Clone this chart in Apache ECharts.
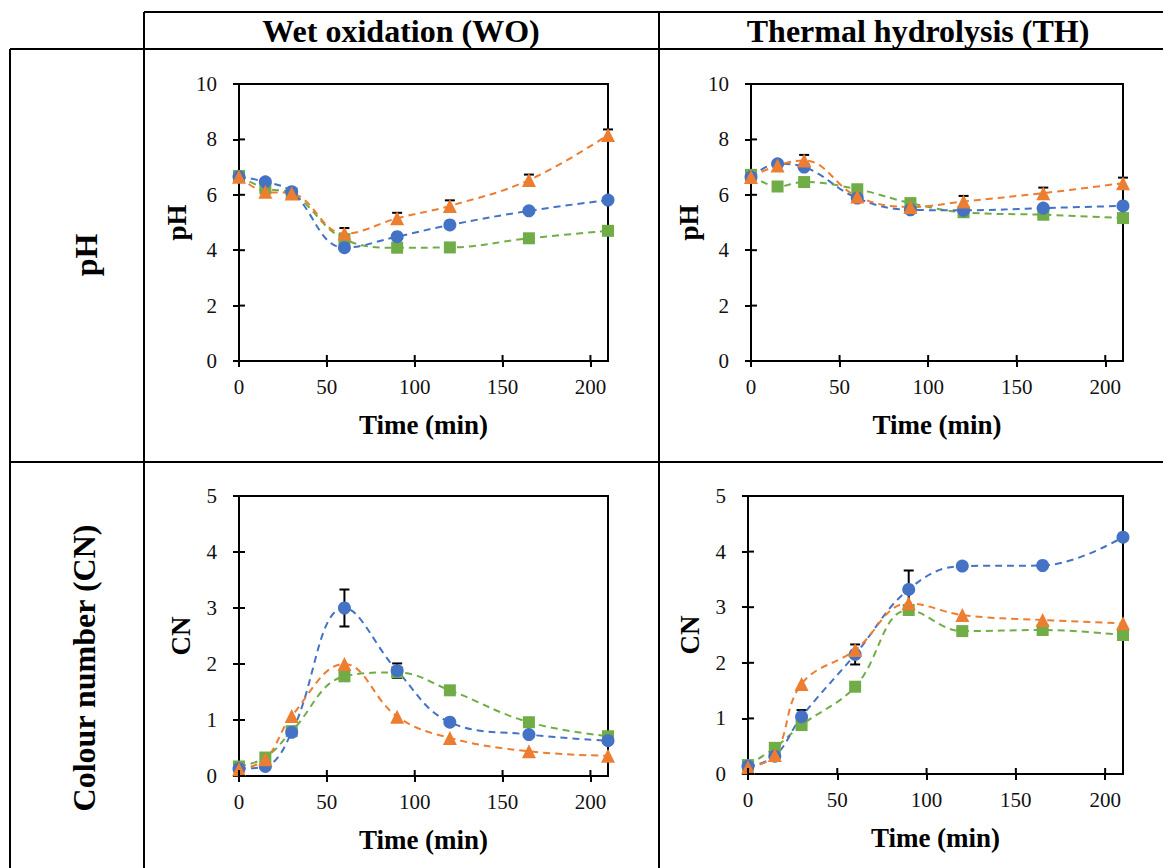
<!DOCTYPE html>
<html>
<head>
<meta charset="utf-8">
<title>Wet oxidation vs thermal hydrolysis — pH and colour number</title>
<script src="https://cdn.jsdelivr.net/npm/echarts@6/dist/echarts.min.js"></script>
<style>
  html, body { margin: 0; padding: 0; background: #fff; }
  #chart { width: 1163px; height: 868px; }
</style>
</head>
<body>
<div id="chart"></div>
<script>
// Sampling times (min)
const TIME = [0, 15, 30, 60, 90, 120, 165, 210];

// Axis ticks
const X_TICKS = [0, 50, 100, 150, 200];
const PH_TICKS = [0, 2, 4, 6, 8, 10];
const CN_TICKS = [0, 1, 2, 3, 4, 5];

// pH, wet oxidation
const WO_PH_CIRCLE   = [6.65, 6.47, 6.11, 4.09, 4.49, 4.91, 5.42, 5.81];
const WO_PH_SQUARE   = [6.68, 6.23, 6.05, 4.40, 4.09, 4.10, 4.43, 4.70];
const WO_PH_TRIANGLE = [6.65, 6.11, 6.05, 4.60, 5.15, 5.60, 6.53, 8.16];
const WO_PH_TRIANGLE_ERR = [0, 0, 0, 0.2, 0.2, 0.2, 0.2, 0.2];

// pH, thermal hydrolysis
const TH_PH_CIRCLE   = [6.64, 7.12, 7.00, 5.88, 5.46, 5.44, 5.52, 5.60];
const TH_PH_SQUARE   = [6.72, 6.30, 6.46, 6.20, 5.70, 5.37, 5.28, 5.16];
const TH_PH_TRIANGLE = [6.64, 7.06, 7.24, 5.94, 5.56, 5.76, 6.06, 6.42];
const TH_PH_TRIANGLE_ERR = [0, 0, 0.2, 0, 0, 0.2, 0.2, 0.2];

// Colour number, wet oxidation
const WO_CN_CIRCLE   = [0.13, 0.17, 0.78, 3.00, 1.88, 0.96, 0.74, 0.63];
const WO_CN_SQUARE   = [0.17, 0.33, 0.80, 1.78, 1.85, 1.53, 0.96, 0.71];
const WO_CN_TRIANGLE = [0.12, 0.30, 1.07, 2.00, 1.06, 0.68, 0.44, 0.36];
const WO_CN_CIRCLE_ERR = [0, 0, 0, 0.33, 0.13, 0, 0, 0];

// Colour number, thermal hydrolysis
const TH_CN_CIRCLE   = [0.14, 0.32, 1.03, 2.15, 3.32, 3.74, 3.75, 4.26];
const TH_CN_SQUARE   = [0.16, 0.47, 0.88, 1.57, 2.95, 2.57, 2.59, 2.50];
const TH_CN_TRIANGLE = [0.12, 0.34, 1.62, 2.23, 3.07, 2.86, 2.77, 2.71];
const TH_CN_CIRCLE_ERR = [0, 0, 0.12, 0.18, 0.34, 0, 0, 0];

// Headings
const COLUMN_HEADINGS = ['Wet oxidation (WO)', 'Thermal hydrolysis (TH)'];
const ROW_HEADINGS = ['pH', 'Colour number (CN)'];
const X_TITLE = 'Time (min)';
const Y_TITLES = ['pH', 'CN'];

const SERIF = 'Liberation Serif';
const BLUE = '#4472C4', ORANGE = '#ED7D31', GREEN = '#70AD47';
const TEXT = '#111';

const panels = [
  { grid: { left: 239, top: 84, width: 369, height: 277 }, yTicks: PH_TICKS, yName: Y_TITLES[0], nameGap: 49,
    circle: WO_PH_CIRCLE, square: WO_PH_SQUARE, triangle: WO_PH_TRIANGLE, err: { on: 'triangle', values: WO_PH_TRIANGLE_ERR } },
  { grid: { left: 751, top: 84, width: 372, height: 277 }, yTicks: PH_TICKS, yName: Y_TITLES[0], nameGap: 49,
    circle: TH_PH_CIRCLE, square: TH_PH_SQUARE, triangle: TH_PH_TRIANGLE, err: { on: 'triangle', values: TH_PH_TRIANGLE_ERR } },
  { grid: { left: 239, top: 496, width: 369, height: 280 }, yTicks: CN_TICKS, yName: Y_TITLES[1], nameGap: 45,
    circle: WO_CN_CIRCLE, square: WO_CN_SQUARE, triangle: WO_CN_TRIANGLE, err: { on: 'circle', values: WO_CN_CIRCLE_ERR } },
  { grid: { left: 748, top: 496, width: 375, height: 278 }, yTicks: CN_TICKS, yName: Y_TITLES[1], nameGap: 45,
    circle: TH_CN_CIRCLE, square: TH_CN_SQUARE, triangle: TH_CN_TRIANGLE, err: { on: 'circle', values: TH_CN_CIRCLE_ERR } }
];

const grids = [], xAxes = [], yAxes = [], series = [];
const tickStyle = { color: '#000', width: 2 };

panels.forEach((p, i) => {
  grids.push(Object.assign({ show: true, borderColor: '#000', borderWidth: 2, backgroundColor: 'transparent' }, p.grid));

  const yTicks = p.yTicks;
  const yMax = yTicks[yTicks.length - 1];
  const yStep = yTicks[1] - yTicks[0];

  xAxes.push({
    gridIndex: i, type: 'value', min: 0, max: 210, interval: X_TICKS[1] - X_TICKS[0],
    position: 'bottom', splitLine: { show: false },
    name: X_TITLE, nameLocation: 'middle', nameGap: 50,
    nameTextStyle: { fontFamily: SERIF, fontWeight: 'bold', fontSize: 27, color: '#000' },
    axisLine: { show: true, lineStyle: { color: '#000', width: 2 } },
    axisTick: { show: true, inside: false, length: 6, lineStyle: tickStyle },
    axisLabel: {
      show: true, margin: 15, showMaxLabel: false,
      fontFamily: SERIF, fontSize: 21, color: TEXT,
      formatter: v => (X_TICKS.indexOf(v) >= 0 ? String(v) : '')
    }
  });
  yAxes.push({
    gridIndex: i, type: 'value', min: 0, max: yMax, interval: yStep,
    position: 'left', splitLine: { show: false },
    name: p.yName, nameLocation: 'middle', nameGap: p.nameGap, nameRotate: 90,
    nameTextStyle: { fontFamily: SERIF, fontWeight: 'bold', fontSize: 27, color: '#000' },
    axisLine: { show: true, lineStyle: { color: '#000', width: 2 } },
    axisTick: { show: true, inside: false, length: 6, lineStyle: tickStyle },
    axisLabel: { show: true, margin: 22, fontFamily: SERIF, fontSize: 21, color: TEXT }
  });

  // Inward half of the crossing tick marks, placed through the axis scales
  series.push({
    type: 'custom', xAxisIndex: i, yAxisIndex: i, z: 4, silent: true, animation: false, clip: false,
    data: X_TICKS.map(t => [t, 0, 0]).concat(yTicks.map(v => [0, v, 1])),
    renderItem: (params, api) => {
      const pt = api.coord([api.value(0), api.value(1)]);
      const horizontalAxis = api.value(2) === 0;
      return {
        type: 'line',
        shape: horizontalAxis
          ? { x1: pt[0], y1: pt[1], x2: pt[0], y2: pt[1] - 6 }
          : { x1: pt[0], y1: pt[1], x2: pt[0] + 6, y2: pt[1] },
        style: { stroke: '#000', lineWidth: 2 }
      };
    }
  });

  const lineSeries = (name, values, color, symbol, size) => ({
    name, type: 'line', xAxisIndex: i, yAxisIndex: i,
    data: TIME.map((t, k) => [t, values[k]]),
    smooth: 0.4,
    symbol, symbolSize: size,
    itemStyle: { color, borderWidth: 0 },
    lineStyle: { color, width: 2, type: [7, 5] },
    z: 3, silent: true, animation: false
  });

  // Error bars, drawn beneath the markers
  const errTarget = p.err.on === 'circle' ? p.circle : p.triangle;
  series.push({
    type: 'custom', xAxisIndex: i, yAxisIndex: i, z: 1, silent: true, animation: false, clip: false,
    data: TIME.map((t, k) => [t, errTarget[k] - p.err.values[k], errTarget[k] + p.err.values[k], p.err.values[k]])
              .filter(d => d[3] > 0),
    renderItem: (params, api) => {
      const x = api.value(0);
      const lo = api.coord([x, api.value(1)]);
      const hi = api.coord([x, api.value(2)]);
      const w = 5;
      const st = { stroke: '#000', lineWidth: 2 };
      return {
        type: 'group',
        children: [
          { type: 'line', shape: { x1: lo[0], y1: lo[1], x2: hi[0], y2: hi[1] }, style: st },
          { type: 'line', shape: { x1: hi[0] - w, y1: hi[1], x2: hi[0] + w, y2: hi[1] }, style: st },
          { type: 'line', shape: { x1: lo[0] - w, y1: lo[1], x2: lo[0] + w, y2: lo[1] }, style: st }
        ]
      };
    }
  });
  series.push(lineSeries('square', p.square, GREEN, 'rect', 12));
  series.push(lineSeries('circle', p.circle, BLUE, 'circle', 13));
  series.push(lineSeries('triangle', p.triangle, ORANGE, 'triangle', 14));
});

// Table frame and headings
const frameLine = (x1, y1, x2, y2) => ({
  type: 'line', silent: true, shape: { x1, y1, x2, y2 }, style: { stroke: '#000', lineWidth: 2 }
});
const headingFont = `bold 32px "${SERIF}", serif`;
const graphic = [
  frameLine(144, 12, 1163, 12),
  frameLine(10, 49, 1163, 49),
  frameLine(10, 462, 1163, 462),
  frameLine(10, 49, 10, 868),
  frameLine(144, 12, 144, 868),
  frameLine(659, 12, 659, 868),
  { type: 'text', silent: true, x: 401, y: 31,
    style: { text: COLUMN_HEADINGS[0], font: headingFont, fill: '#000', align: 'center', verticalAlign: 'middle' } },
  { type: 'text', silent: true, x: 918, y: 31,
    style: { text: COLUMN_HEADINGS[1], font: headingFont, fill: '#000', align: 'center', verticalAlign: 'middle' } },
  { type: 'text', silent: true, x: 86, y: 255, rotation: Math.PI / 2,
    style: { text: ROW_HEADINGS[0], font: headingFont, fill: '#000', align: 'center', verticalAlign: 'middle' } },
  { type: 'text', silent: true, x: 84, y: 668, rotation: Math.PI / 2,
    style: { text: ROW_HEADINGS[1], font: headingFont, fill: '#000', align: 'center', verticalAlign: 'middle' } }
];

const chart = echarts.init(document.getElementById('chart'), null, { renderer: 'svg' });
chart.setOption({
  animation: false,
  backgroundColor: '#fff',
  textStyle: { fontFamily: SERIF, color: TEXT },
  grid: grids,
  xAxis: xAxes,
  yAxis: yAxes,
  series,
  graphic
});
</script>
</body>
</html>
